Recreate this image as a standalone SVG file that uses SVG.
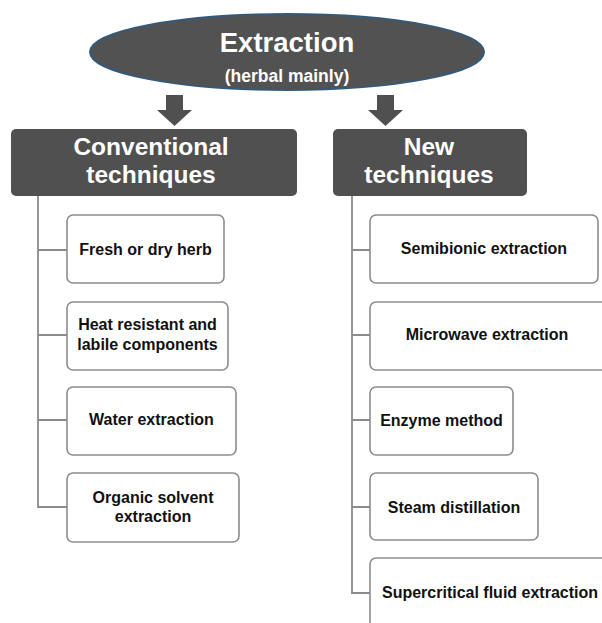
<svg xmlns="http://www.w3.org/2000/svg" width="602" height="623" viewBox="0 0 602 623">
<style>
.hdr{fill:#505050;}
.hdrt{font-family:"Liberation Sans",Arial,sans-serif;font-weight:bold;fill:#ffffff;text-anchor:middle;}
.box{fill:#ffffff;stroke:#8c8c8c;stroke-width:1.6;}
.bt{font-family:"Liberation Sans",Arial,sans-serif;font-weight:bold;font-size:16px;fill:#111111;text-anchor:middle;}
.ln{fill:none;stroke:#8c8c8c;stroke-width:1.8;}
.arr{fill:#505050;}
</style>
<rect width="602" height="623" fill="#ffffff"/>
<g id="root">
<ellipse cx="287" cy="52" rx="197" ry="38" fill="#525252" stroke="#35597a" stroke-width="2"/>
<text class="hdrt" x="287" y="52" font-size="27.5">Extraction</text>
<text class="hdrt" x="287" y="82" font-size="17.5">(herbal mainly)</text>
</g>
<g id="connectors">
<polygon class="arr" points="166,95 183,95 183,110 192,110 174.5,126 157,110 166,110"/>
<polygon class="arr" points="377,95 394,95 394,110 403,110 385.5,126 368,110 377,110"/>
<path class="ln" d="M38,196 V507 H67 M38,250 H67 M38,335 H67 M38,420 H67"/>
<path class="ln" d="M352,196 V593 H370 M352,250 H370 M352,335 H370 M352,420 H370 M352,507 H370"/>
</g>
<g id="conventional">
<rect class="hdr" x="11" y="129" width="286" height="67" rx="5"/>
<text class="hdrt" x="151" y="155" font-size="24.5">Conventional</text>
<text class="hdrt" x="151" y="183" font-size="24.5">techniques</text>
</g>
<g id="new">
<rect class="hdr" x="333" y="129" width="194" height="67" rx="5"/>
<text class="hdrt" x="429" y="155" font-size="24.5">New</text>
<text class="hdrt" x="429" y="183" font-size="24.5">techniques</text>
</g>
<g id="fresh">
<rect class="box" x="67" y="215" width="157" height="68" rx="6"/>
<text class="bt" x="145.5" y="255">Fresh or dry herb</text>
</g>
<g id="heat">
<rect class="box" x="67" y="302" width="161" height="68" rx="6"/>
<text class="bt" x="147.5" y="330">Heat resistant and</text>
<text class="bt" x="147.5" y="350">labile components</text>
</g>
<g id="water">
<rect class="box" x="67" y="387" width="169" height="68" rx="6"/>
<text class="bt" x="151.5" y="425">Water extraction</text>
</g>
<g id="organic">
<rect class="box" x="67" y="473" width="172" height="69" rx="6"/>
<text class="bt" x="153" y="503">Organic solvent</text>
<text class="bt" x="153" y="522">extraction</text>
</g>
<g id="semibionic">
<rect class="box" x="370" y="215" width="228" height="68" rx="6"/>
<text class="bt" x="484" y="254">Semibionic extraction</text>
</g>
<g id="microwave">
<rect class="box" x="370" y="302" width="240" height="68" rx="6"/>
<text class="bt" x="487" y="340">Microwave extraction</text>
</g>
<g id="enzyme">
<rect class="box" x="370" y="387" width="143" height="68" rx="6"/>
<text class="bt" x="441.5" y="426">Enzyme method</text>
</g>
<g id="steam">
<rect class="box" x="370" y="473" width="168" height="67" rx="6"/>
<text class="bt" x="454" y="513">Steam distillation</text>
</g>
<g id="supercritical">
<rect class="box" x="370" y="558" width="250" height="80" rx="6"/>
<text class="bt" x="490" y="598">Supercritical fluid extraction</text>
</g>
</svg>
